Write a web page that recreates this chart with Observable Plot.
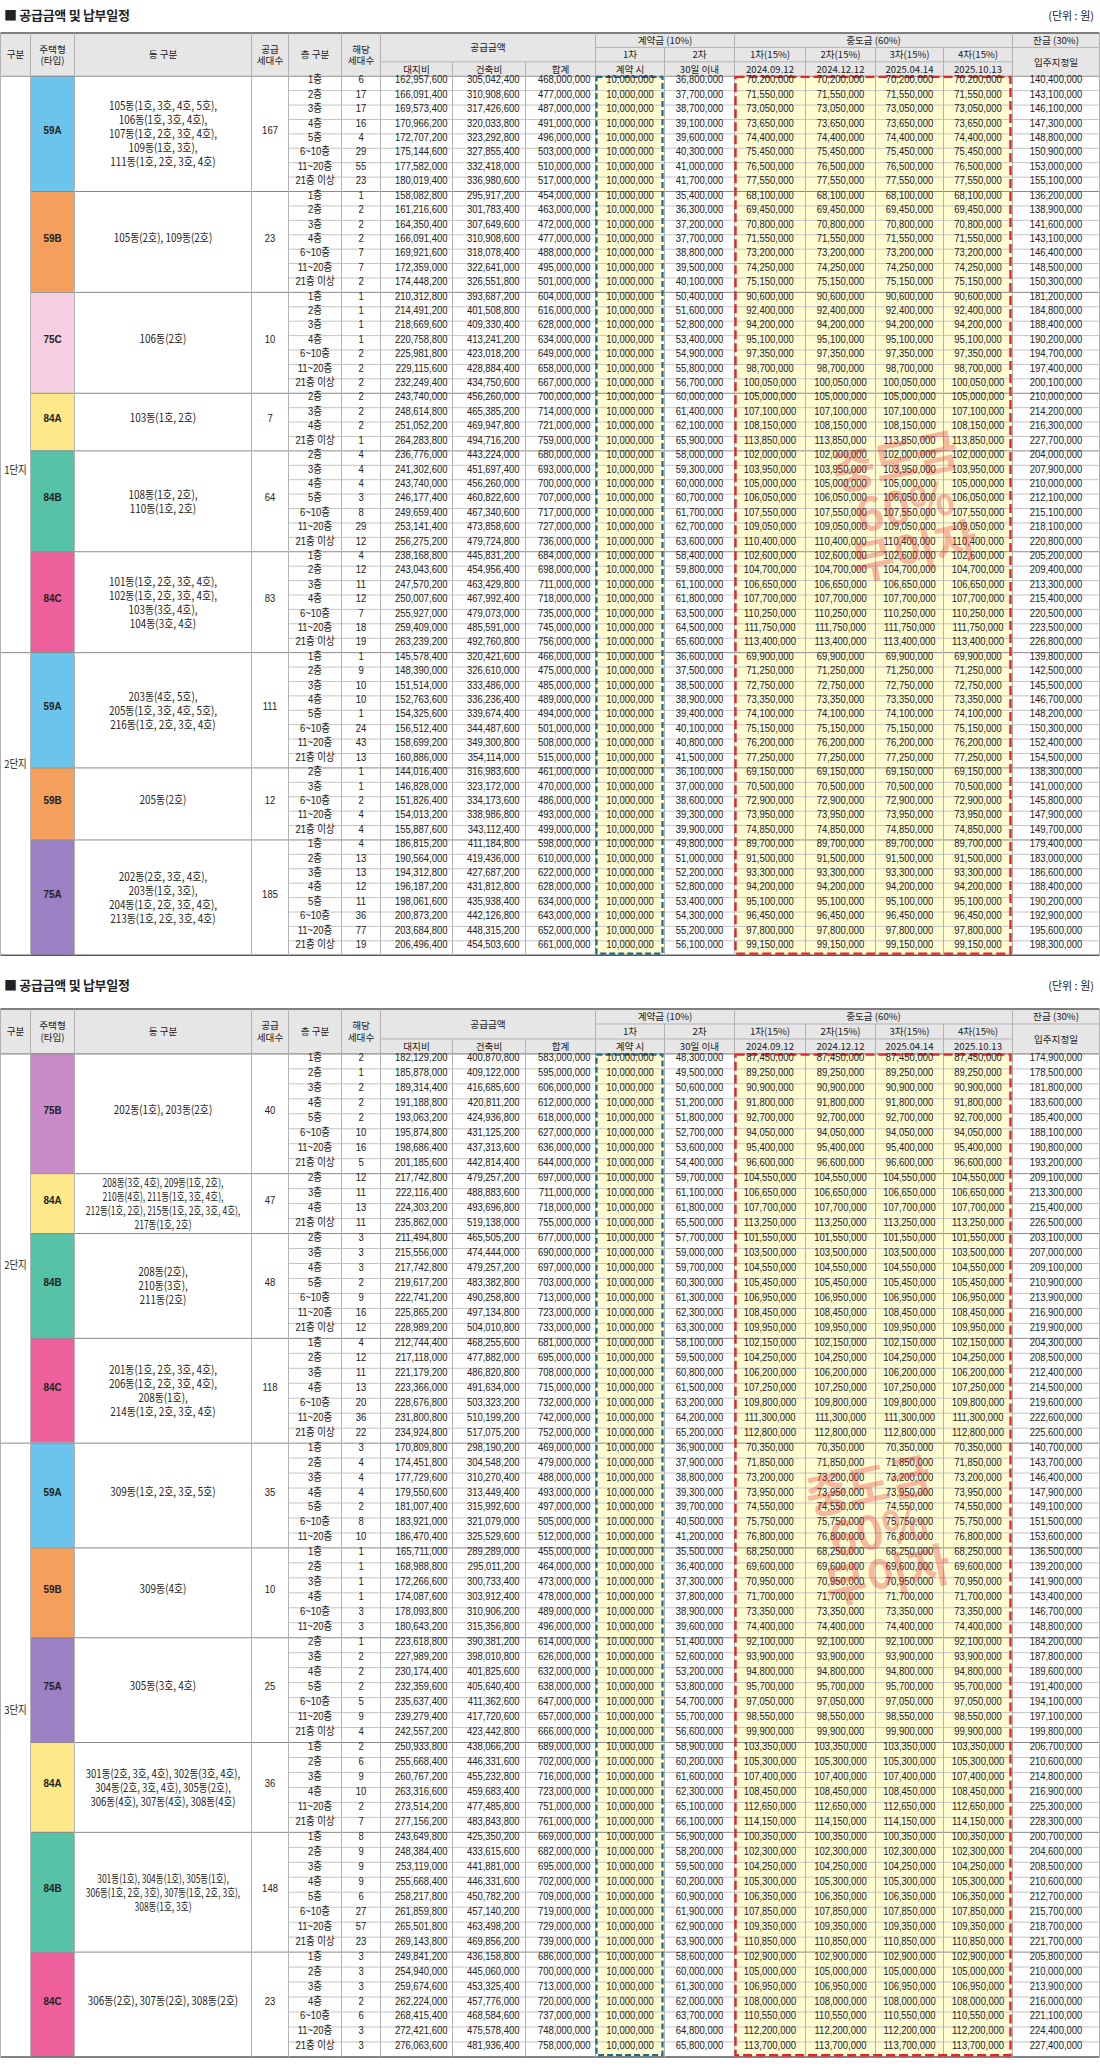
<!DOCTYPE html>
<html><head><meta charset="utf-8">
<script src="https://cdn.jsdelivr.net/npm/d3@7"></script>
<script src="https://cdn.jsdelivr.net/npm/@observablehq/plot@0.6"></script>
<style>
html,body{margin:0;padding:0;background:#fff;}
#page{position:relative;width:1100px;height:2072px;font-family:"Noto Sans CJK KR","Liberation Sans",sans-serif;color:#222;}
.ttl{position:absolute;left:4px;font-size:13px;font-weight:700;letter-spacing:-0.3px;}
.unit{position:absolute;right:6px;font-size:11px;}
.tbl{position:absolute;left:0;}
</style></head><body>
<div id="page">
  <div class="ttl" style="top:5px">■ 공급금액 및 납부일정</div>
  <div class="unit" style="top:7px">(단위 : 원)</div>
  <div class="tbl" id="t1" style="top:32px"></div>
  <div class="ttl" style="top:975px">■ 공급금액 및 납부일정</div>
  <div class="unit" style="top:977px">(단위 : 원)</div>
  <div class="tbl" id="t2" style="top:1008px"></div>
</div>
<script>
// ---------- header labels ----------
const HEAD_LEFT = ["구분", "주택형\n(타입)", "동 구분", "공급\n세대수", "층 구분", "해당\n세대수"];
const HEAD_SUPPLY = ["공급금액", "대지비", "건축비", "합계"];
const HEAD_DEPOSIT = ["계약금 (10%)", "1차", "2차", "계약 시", "30일 이내"];
const HEAD_MID = "중도금 (60%)";
const MID_STAGES = ["1차(15%)", "2차(15%)", "3차(15%)", "4차(15%)"];
const MID_DATES = ["2024.09.12", "2024.12.12", "2025.04.14", "2025.10.13"];
const HEAD_BAL = ["잔금 (30%)", "입주지정일"];
const FIRST_DEPOSIT = 10000000;
const WATERMARK = "중도금\n60%\n무이자";

// ---------- table 1 ----------
const COMPLEX_1 = ["1단지","1단지","1단지","1단지","1단지","1단지","2단지","2단지","2단지"];
const TYPE_1 = ["59A","59B","75C","84A","84B","84C","59A","59B","75A"];
const SUPPLY_1 = [167, 23, 10, 7, 64, 83, 111, 12, 185];
const DONG_1 = [
  "105동(1호, 3호, 4호, 5호),\n106동(1호, 3호, 4호),\n107동(1호, 2호, 3호, 4호),\n109동(1호, 3호),\n111동(1호, 2호, 3호, 4호)",
  "105동(2호), 109동(2호)",
  "106동(2호)",
  "103동(1호, 2호)",
  "108동(1호, 2호),\n110동(1호, 2호)",
  "101동(1호, 2호, 3호, 4호),\n102동(1호, 2호, 3호, 4호),\n103동(3호, 4호),\n104동(3호, 4호)",
  "203동(4호, 5호),\n205동(1호, 3호, 4호, 5호),\n216동(1호, 2호, 3호, 4호)",
  "205동(2호)",
  "202동(2호, 3호, 4호),\n203동(1호, 3호),\n204동(1호, 2호, 3호, 4호),\n213동(1호, 2호, 3호, 4호)"
];
// floor | units | land | building | total | deposit 2nd | each mid payment | balance
const ROWS_1 = [
 ["1층|6|162957600|305042400|468000000|36800000|70200000|140400000",
  "2층|17|166091400|310908600|477000000|37700000|71550000|143100000",
  "3층|17|169573400|317426600|487000000|38700000|73050000|146100000",
  "4층|16|170966200|320033800|491000000|39100000|73650000|147300000",
  "5층|4|172707200|323292800|496000000|39600000|74400000|148800000",
  "6~10층|29|175144600|327855400|503000000|40300000|75450000|150900000",
  "11~20층|55|177582000|332418000|510000000|41000000|76500000|153000000",
  "21층 이상|23|180019400|336980600|517000000|41700000|77550000|155100000"],
 ["1층|1|158082800|295917200|454000000|35400000|68100000|136200000",
  "2층|2|161216600|301783400|463000000|36300000|69450000|138900000",
  "3층|2|164350400|307649600|472000000|37200000|70800000|141600000",
  "4층|2|166091400|310908600|477000000|37700000|71550000|143100000",
  "6~10층|7|169921600|318078400|488000000|38800000|73200000|146400000",
  "11~20층|7|172359000|322641000|495000000|39500000|74250000|148500000",
  "21층 이상|2|174448200|326551800|501000000|40100000|75150000|150300000"],
 ["1층|1|210312800|393687200|604000000|50400000|90600000|181200000",
  "2층|1|214491200|401508800|616000000|51600000|92400000|184800000",
  "3층|1|218669600|409330400|628000000|52800000|94200000|188400000",
  "4층|1|220758800|413241200|634000000|53400000|95100000|190200000",
  "6~10층|2|225981800|423018200|649000000|54900000|97350000|194700000",
  "11~20층|2|229115600|428884400|658000000|55800000|98700000|197400000",
  "21층 이상|2|232249400|434750600|667000000|56700000|100050000|200100000"],
 ["2층|2|243740000|456260000|700000000|60000000|105000000|210000000",
  "3층|2|248614800|465385200|714000000|61400000|107100000|214200000",
  "4층|2|251052200|469947800|721000000|62100000|108150000|216300000",
  "21층 이상|1|264283800|494716200|759000000|65900000|113850000|227700000"],
 ["2층|4|236776000|443224000|680000000|58000000|102000000|204000000",
  "3층|4|241302600|451697400|693000000|59300000|103950000|207900000",
  "4층|4|243740000|456260000|700000000|60000000|105000000|210000000",
  "5층|3|246177400|460822600|707000000|60700000|106050000|212100000",
  "6~10층|8|249659400|467340600|717000000|61700000|107550000|215100000",
  "11~20층|29|253141400|473858600|727000000|62700000|109050000|218100000",
  "21층 이상|12|256275200|479724800|736000000|63600000|110400000|220800000"],
 ["1층|4|238168800|445831200|684000000|58400000|102600000|205200000",
  "2층|12|243043600|454956400|698000000|59800000|104700000|209400000",
  "3층|11|247570200|463429800|711000000|61100000|106650000|213300000",
  "4층|12|250007600|467992400|718000000|61800000|107700000|215400000",
  "6~10층|7|255927000|479073000|735000000|63500000|110250000|220500000",
  "11~20층|18|259409000|485591000|745000000|64500000|111750000|223500000",
  "21층 이상|19|263239200|492760800|756000000|65600000|113400000|226800000"],
 ["1층|1|145578400|320421600|466000000|36600000|69900000|139800000",
  "2층|9|148390000|326610000|475000000|37500000|71250000|142500000",
  "3층|10|151514000|333486000|485000000|38500000|72750000|145500000",
  "4층|10|152763600|336236400|489000000|38900000|73350000|146700000",
  "5층|1|154325600|339674400|494000000|39400000|74100000|148200000",
  "6~10층|24|156512400|344487600|501000000|40100000|75150000|150300000",
  "11~20층|43|158699200|349300800|508000000|40800000|76200000|152400000",
  "21층 이상|13|160886000|354114000|515000000|41500000|77250000|154500000"],
 ["2층|1|144016400|316983600|461000000|36100000|69150000|138300000",
  "3층|1|146828000|323172000|470000000|37000000|70500000|141000000",
  "6~10층|2|151826400|334173600|486000000|38600000|72900000|145800000",
  "11~20층|4|154013200|338986800|493000000|39300000|73950000|147900000",
  "21층 이상|4|155887600|343112400|499000000|39900000|74850000|149700000"],
 ["1층|4|186815200|411184800|598000000|49800000|89700000|179400000",
  "2층|13|190564000|419436000|610000000|51000000|91500000|183000000",
  "3층|13|194312800|427687200|622000000|52200000|93300000|186600000",
  "4층|12|196187200|431812800|628000000|52800000|94200000|188400000",
  "5층|11|198061600|435938400|634000000|53400000|95100000|190200000",
  "6~10층|36|200873200|442126800|643000000|54300000|96450000|192900000",
  "11~20층|77|203684800|448315200|652000000|55200000|97800000|195600000",
  "21층 이상|19|206496400|454503600|661000000|56100000|99150000|198300000"]
];

// ---------- table 2 ----------
const COMPLEX_2 = ["2단지","2단지","2단지","2단지","3단지","3단지","3단지","3단지","3단지","3단지"];
const TYPE_2 = ["75B","84A","84B","84C","59A","59B","75A","84A","84B","84C"];
const SUPPLY_2 = [40, 47, 48, 118, 35, 10, 25, 36, 148, 23];
const DONG_2 = [
  "202동(1호), 203동(2호)",
  "208동(3호, 4호), 209동(1호, 2호),\n210동(4호), 211동(1호, 3호, 4호),\n212동(1호, 2호), 215동(1호, 2호, 3호, 4호),\n217동(1호, 2호)",
  "208동(2호),\n210동(3호),\n211동(2호)",
  "201동(1호, 2호, 3호, 4호),\n206동(1호, 2호, 3호, 4호),\n208동(1호),\n214동(1호, 2호, 3호, 4호)",
  "309동(1호, 2호, 3호, 5호)",
  "309동(4호)",
  "305동(3호, 4호)",
  "301동(2호, 3호, 4호), 302동(3호, 4호),\n304동(2호, 3호, 4호), 305동(2호),\n306동(4호), 307동(4호), 308동(4호)",
  "301동(1호), 304동(1호), 305동(1호),\n306동(1호, 2호, 3호), 307동(1호, 2호, 3호),\n308동(1호, 3호)",
  "306동(2호), 307동(2호), 308동(2호)"
];
const ROWS_2 = [
 ["1층|2|182129200|400870800|583000000|48300000|87450000|174900000",
  "2층|1|185878000|409122000|595000000|49500000|89250000|178500000",
  "3층|2|189314400|416685600|606000000|50600000|90900000|181800000",
  "4층|2|191188800|420811200|612000000|51200000|91800000|183600000",
  "5층|2|193063200|424936800|618000000|51800000|92700000|185400000",
  "6~10층|10|195874800|431125200|627000000|52700000|94050000|188100000",
  "11~20층|16|198686400|437313600|636000000|53600000|95400000|190800000",
  "21층 이상|5|201185600|442814400|644000000|54400000|96600000|193200000"],
 ["2층|12|217742800|479257200|697000000|59700000|104550000|209100000",
  "3층|11|222116400|488883600|711000000|61100000|106650000|213300000",
  "4층|13|224303200|493696800|718000000|61800000|107700000|215400000",
  "21층 이상|11|235862000|519138000|755000000|65500000|113250000|226500000"],
 ["2층|3|211494800|465505200|677000000|57700000|101550000|203100000",
  "3층|3|215556000|474444000|690000000|59000000|103500000|207000000",
  "4층|3|217742800|479257200|697000000|59700000|104550000|209100000",
  "5층|2|219617200|483382800|703000000|60300000|105450000|210900000",
  "6~10층|9|222741200|490258800|713000000|61300000|106950000|213900000",
  "11~20층|16|225865200|497134800|723000000|62300000|108450000|216900000",
  "21층 이상|12|228989200|504010800|733000000|63300000|109950000|219900000"],
 ["1층|4|212744400|468255600|681000000|58100000|102150000|204300000",
  "2층|12|217118000|477882000|695000000|59500000|104250000|208500000",
  "3층|11|221179200|486820800|708000000|60800000|106200000|212400000",
  "4층|13|223366000|491634000|715000000|61500000|107250000|214500000",
  "6~10층|20|228676800|503323200|732000000|63200000|109800000|219600000",
  "11~20층|36|231800800|510199200|742000000|64200000|111300000|222600000",
  "21층 이상|22|234924800|517075200|752000000|65200000|112800000|225600000"],
 ["1층|3|170809800|298190200|469000000|36900000|70350000|140700000",
  "2층|4|174451800|304548200|479000000|37900000|71850000|143700000",
  "3층|4|177729600|310270400|488000000|38800000|73200000|146400000",
  "4층|4|179550600|313449400|493000000|39300000|73950000|147900000",
  "5층|2|181007400|315992600|497000000|39700000|74550000|149100000",
  "6~10층|8|183921000|321079000|505000000|40500000|75750000|151500000",
  "11~20층|10|186470400|325529600|512000000|41200000|76800000|153600000"],
 ["1층|1|165711000|289289000|455000000|35500000|68250000|136500000",
  "2층|1|168988800|295011200|464000000|36400000|69600000|139200000",
  "3층|1|172266600|300733400|473000000|37300000|70950000|141900000",
  "4층|1|174087600|303912400|478000000|37800000|71700000|143400000",
  "6~10층|3|178093800|310906200|489000000|38900000|73350000|146700000",
  "11~20층|3|180643200|315356800|496000000|39600000|74400000|148800000"],
 ["2층|1|223618800|390381200|614000000|51400000|92100000|184200000",
  "3층|2|227989200|398010800|626000000|52600000|93900000|187800000",
  "4층|2|230174400|401825600|632000000|53200000|94800000|189600000",
  "5층|2|232359600|405640400|638000000|53800000|95700000|191400000",
  "6~10층|5|235637400|411362600|647000000|54700000|97050000|194100000",
  "11~20층|9|239279400|417720600|657000000|55700000|98550000|197100000",
  "21층 이상|4|242557200|423442800|666000000|56600000|99900000|199800000"],
 ["1층|2|250933800|438066200|689000000|58900000|103350000|206700000",
  "2층|6|255668400|446331600|702000000|60200000|105300000|210600000",
  "3층|9|260767200|455232800|716000000|61600000|107400000|214800000",
  "4층|10|263316600|459683400|723000000|62300000|108450000|216900000",
  "11~20층|2|273514200|477485800|751000000|65100000|112650000|225300000",
  "21층 이상|7|277156200|483843800|761000000|66100000|114150000|228300000"],
 ["1층|8|243649800|425350200|669000000|56900000|100350000|200700000",
  "2층|9|248384400|433615600|682000000|58200000|102300000|204600000",
  "3층|9|253119000|441881000|695000000|59500000|104250000|208500000",
  "4층|9|255668400|446331600|702000000|60200000|105300000|210600000",
  "5층|6|258217800|450782200|709000000|60900000|106350000|212700000",
  "6~10층|27|261859800|457140200|719000000|61900000|107850000|215700000",
  "11~20층|57|265501800|463498200|729000000|62900000|109350000|218700000",
  "21층 이상|23|269143800|469856200|739000000|63900000|110850000|221700000"],
 ["1층|3|249841200|436158800|686000000|58600000|102900000|205800000",
  "2층|3|254940000|445060000|700000000|60000000|105000000|210000000",
  "3층|3|259674600|453325400|713000000|61300000|106950000|213900000",
  "4층|2|262224000|457776000|720000000|62000000|108000000|216000000",
  "6~10층|6|268415400|468584600|737000000|63700000|110550000|221100000",
  "11~20층|3|272421600|475578400|748000000|64800000|112200000|224400000",
  "21층 이상|3|276063600|481936400|758000000|65800000|113700000|227400000"]
];

// ---------- styling / layout ----------
const TYPE_COLOR = {"59A":"#6ac4ec","59B":"#f4a05c","75C":"#f6cfe2","84A":"#fde88a",
                    "84B":"#56c2a6","84C":"#ee609b","75A":"#9b80c3","75B":"#c98bc8"};
const COLX = [0,30,74,251,288,341,380,452,525,595,664,734,805,875,943,1012,1099];
const FONT = '"Liberation Sans","Noto Sans CJK KR",sans-serif';
const KFONT = '"Noto Sans CJK KR","Liberation Sans",sans-serif';
const DONG_SIZE = 11.5;
const fmt = d3.format(",");

// rough advance width of a string in em (for fitting the 동 구분 text)
function estEm(s) {
  let w = 0;
  for (const ch of s) {
    if (/[\uac00-\ud7a3]/.test(ch)) w += 1;
    else if (/[0-9]/.test(ch)) w += 0.58;
    else if (ch === " ") w += 0.27;
    else if (ch === ",") w += 0.3;
    else w += 0.38;
  }
  return w * 0.85;
}

function drawTable(host, complexes, types, supplies, dongs, rowsByType, rowH, labelAt, mark) {
  const rows = [], groups = [];
  rowsByType.forEach((list, g) => {
    const start = rows.length;
    list.forEach(s => {
      const f = s.split("|");
      rows.push({g, floor: f[0], count: +f[1], land: +f[2], build: +f[3], total: +f[4],
                 second: +f[5], mid: +f[6], bal: +f[7]});
    });
    groups.push({g, start, end: rows.length});
  });
  const n = rows.length;
  const X = COLX, cx = i => (X[i] + X[i + 1]) / 2;

  const cspans = [];
  groups.forEach(gr => {
    const c = complexes[gr.g];
    if (cspans.length && cspans[cspans.length - 1].name === c) cspans[cspans.length - 1].end = gr.end;
    else cspans.push({name: c, start: gr.start, end: gr.end});
  });

  const rects = [
    {x1: 0, x2: 1099, y1: -3, y2: 0, fill: "#e6e6e6"},
    {x1: X[9], x2: X[10], y1: 0, y2: n, fill: "#fffcd2"},
    {x1: X[11], x2: X[15], y1: 0, y2: n, fill: "#fffcd2"}
  ];
  groups.forEach(gr => rects.push({x1: X[1], x2: X[2], y1: gr.start, y2: gr.end, fill: TYPE_COLOR[types[gr.g]]}));

  const head = [];
  HEAD_LEFT.forEach((t, i) => head.push({x: cx(i), y: -1.5, t}));
  head.push({x: (X[6] + X[9]) / 2, y: -2, t: HEAD_SUPPLY[0]});
  [1, 2, 3].forEach(k => head.push({x: cx(5 + k), y: -0.5, t: HEAD_SUPPLY[k]}));
  head.push({x: (X[9] + X[11]) / 2, y: -2.5, t: HEAD_DEPOSIT[0]});
  head.push({x: cx(9), y: -1.5, t: HEAD_DEPOSIT[1]});
  head.push({x: cx(10), y: -1.5, t: HEAD_DEPOSIT[2]});
  head.push({x: cx(9), y: -0.5, t: HEAD_DEPOSIT[3]});
  head.push({x: cx(10), y: -0.5, t: HEAD_DEPOSIT[4]});
  head.push({x: (X[11] + X[15]) / 2, y: -2.5, t: HEAD_MID});
  MID_STAGES.forEach((t, k) => head.push({x: cx(11 + k), y: -1.5, t}));
  MID_DATES.forEach((t, k) => head.push({x: cx(11 + k), y: -0.5, t}));
  head.push({x: cx(15), y: -2.5, t: HEAD_BAL[0]});
  head.push({x: cx(15), y: -1, t: HEAD_BAL[1]});

  const mids = [], ends = [];
  rows.forEach((r, i) => {
    const y = i + 0.5;
    mids.push({x: cx(4), y, t: r.floor});
    mids.push({x: cx(5), y, t: String(r.count)});
    ends.push({x: X[7] - 5, y, t: fmt(r.land)});
    ends.push({x: X[8] - 6, y, t: fmt(r.build)});
    ends.push({x: X[9] - 5, y, t: fmt(r.total)});
    mids.push({x: cx(9), y, t: fmt(FIRST_DEPOSIT)});
    mids.push({x: cx(10), y, t: fmt(r.second)});
    [11, 12, 13, 14].forEach(c => mids.push({x: cx(c), y, t: fmt(r.mid)}));
    mids.push({x: cx(15), y, t: fmt(r.bal)});
  });
  const typeTxt = groups.map(gr => ({x: cx(1), y: (gr.start + gr.end) / 2, t: types[gr.g]}));
  const supTxt = groups.map(gr => ({x: cx(3), y: (gr.start + gr.end) / 2, t: String(supplies[gr.g])}));
  const dongTxt = groups.map(gr => ({x: cx(2), y: (gr.start + gr.end) / 2, t: dongs[gr.g]}));
  const cplxTxt = cspans.map((c, k) => ({x: cx(0), y: labelAt[k], t: c.name}));

  const links = [];
  const L = (x1, x2, y1, y2, s, w) => links.push({x1, x2, y1, y2, s, w});
  const ROW = "#c4c4c4", COL = "#b2b2b2", GRP = "#8a8a8a", EDGE = "#5a5a5a";
  for (let r = 1; r < n; r++) {
    if (cspans.some(c => c.start === r)) L(0, 1099, r, r, GRP, 1);
    else if (groups.some(g => g.start === r)) L(X[1], 1099, r, r, GRP, 1);
    else L(X[4], 1099, r, r, ROW, 1);
  }
  L(0, 1099, -3, -3, EDGE, 1.5);
  L(X[9], 1099, -2, -2, COL, 1);
  L(X[6], X[15], -1, -1, COL, 1);
  L(0, 1099, 0, 0, GRP, 1.2);
  L(0, 1099, n, n, EDGE, 1.5);
  X.forEach((x, i) => {
    L(x, x, 0, n, COL, 1);
    let top = -3;
    if (i === 7 || i === 8) top = -1;
    else if (i === 10 || i === 12 || i === 13 || i === 14) top = -2;
    L(x, x, top, 0, COL, 1);
  });

  const wm = [{x: mark[0], y: mark[1], t: WATERMARK}];

  const H = (n + 3) * rowH;
  const svg = Plot.plot({
    width: 1100, height: Math.ceil(H) + 2,
    marginTop: 0, marginRight: 0, marginBottom: 0, marginLeft: 0,
    x: {domain: [0, 1100], range: [0, 1100], axis: null},
    y: {domain: [-3, n], range: [0.5, 0.5 + H], axis: null},
    color: {type: "identity"},
    style: {background: "#fff", overflow: "visible"},
    marks: [
      Plot.rect(rects, {x1: "x1", x2: "x2", y1: "y1", y2: "y2", fill: "fill"}),
      Plot.link(links, {x1: "x1", x2: "x2", y1: "y1", y2: "y2", stroke: "s", strokeWidth: "w"}),
      Plot.rect([{a: X[9] + 1.5, b: X[10] - 1.5, c: 0.08, d: n - 0.08}],
        {x1: "a", x2: "b", y1: "c", y2: "d", fill: "none", stroke: "#1f6a8a", strokeWidth: 2.2, strokeDasharray: "6,3"}),
      Plot.rect([{a: X[11] + 1.5, b: X[15] - 1.5, c: 0.08, d: n - 0.08}],
        {x1: "a", x2: "b", y1: "c", y2: "d", fill: "none", stroke: "#e3262b", strokeWidth: 2.4, strokeDasharray: "9,4"}),
      Plot.text(head, {x: "x", y: "y", text: "t", fontSize: 9.6, fontFamily: KFONT, fill: "#222", lineHeight: 1.2}),
      Plot.text(mids, {x: "x", y: "y", text: "t", fontSize: 11, fontFamily: FONT, fill: "#222"}),
      Plot.text(ends, {x: "x", y: "y", text: "t", fontSize: 11, fontFamily: FONT, fill: "#222", textAnchor: "end"}),
      Plot.text(typeTxt, {x: "x", y: "y", text: "t", fontSize: 11.5, fontFamily: FONT, fontWeight: "bold", fill: "#222"}),
      Plot.text(supTxt, {x: "x", y: "y", text: "t", fontSize: 11, fontFamily: FONT, fill: "#222"}),
      Plot.text(cplxTxt, {x: "x", y: "y", text: "t", fontSize: 11, fontFamily: KFONT, fill: "#222"}),
      Plot.text(dongTxt, {x: "x", y: "y", text: "t", fontSize: DONG_SIZE, fontFamily: KFONT, fill: "#222", lineHeight: 1.22}),
      Plot.text(wm, {x: "x", y: "y", text: "t", fontSize: 46, fontWeight: "bold", fontFamily: KFONT, fill: "#e3262b", fillOpacity: 0.33, lineHeight: 1.0, rotate: -12})
    ]
  });
  host.appendChild(svg);

  // the source uses a narrow font: condense glyphs horizontally about each anchor
  const squeeze = (t, k) => {
    const x = +t.getAttribute("x") || 0, y = +t.getAttribute("y") || 0;
    t.removeAttribute("x"); t.removeAttribute("y");
    const tr = t.getAttribute("transform") || "";
    t.setAttribute("transform", `${tr} translate(${x},${y}) scale(${k},1)`);
  };
  ["11", "11.5"].forEach(fs =>
    svg.querySelectorAll(`g[font-size="${fs}"] text`).forEach(t => squeeze(t, 0.86)));
  svg.querySelectorAll(`g[font-size="${DONG_SIZE}"] text`).forEach(t => {
    const spans = Array.from(t.querySelectorAll("tspan")).map(s => s.textContent);
    const src = spans.length ? spans : [t.textContent];
    const w = DONG_SIZE * Math.max(...src.map(estEm));
    const k = Math.min(1, (X[3] - X[2] - 12) / w);
    squeeze(t, k);
  });
}

drawTable(document.getElementById("t1"), COMPLEX_1, TYPE_1, SUPPLY_1, DONG_1, ROWS_1, 14.41, [27.6, 48], [905, 30]);
drawTable(document.getElementById("t2"), COMPLEX_2, TYPE_2, SUPPLY_2, DONG_2, ROWS_2, 14.97, [14.4, 44.1], [878, 32]);
</script>
</body></html>
